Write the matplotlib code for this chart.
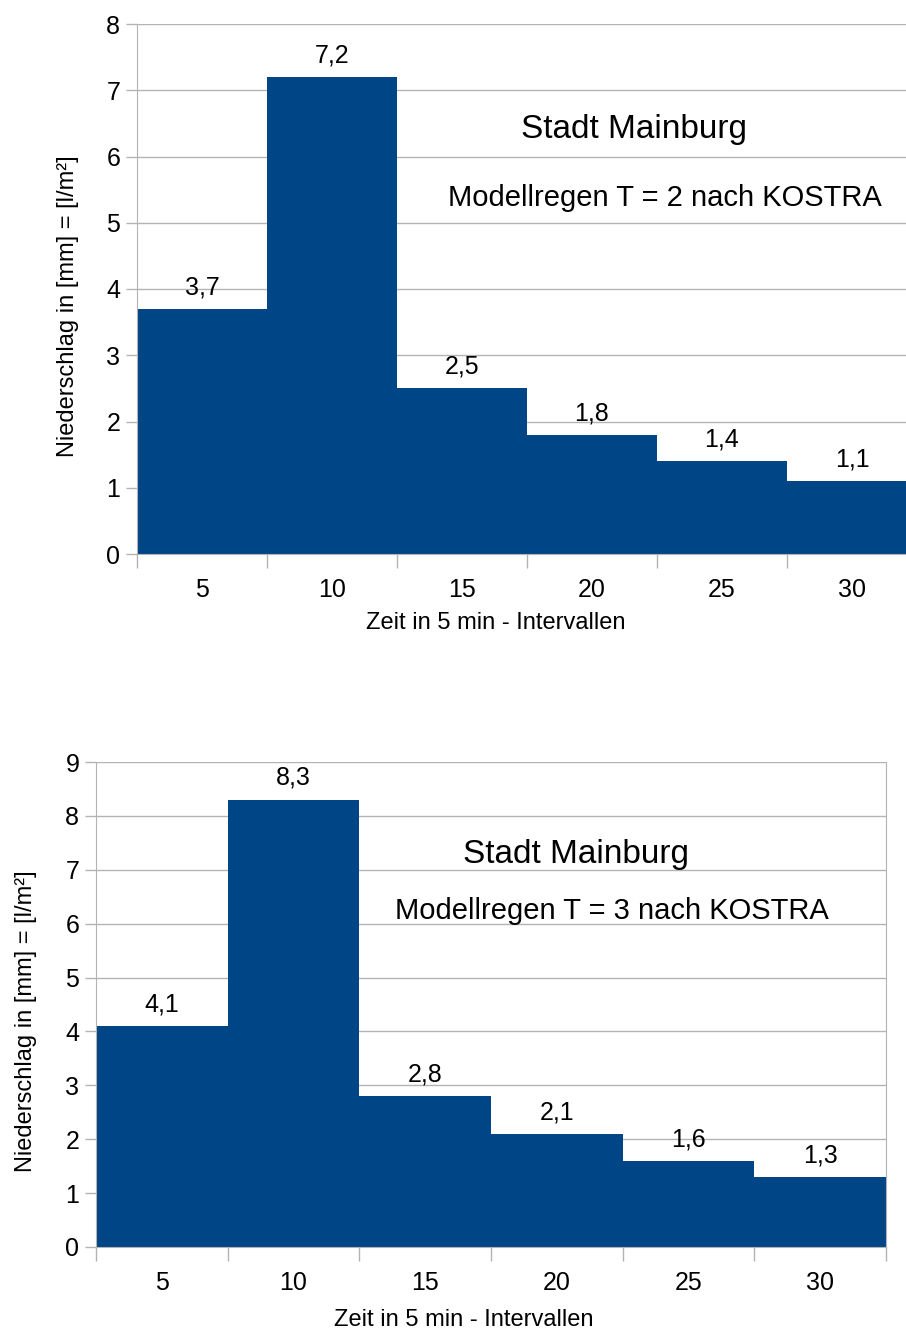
import numpy as np
import matplotlib.pyplot as plt

plt.rcParams['font.family'] = ['Liberation Sans', 'DejaVu Sans']

# data
intervals = ['5', '10', '15', '20', '25', '30']
rain_t2 = [3.7, 7.2, 2.5, 1.8, 1.4, 1.1]
rain_t3 = [4.1, 8.3, 2.8, 2.1, 1.6, 1.3]
labels_t2 = ['3,7', '7,2', '2,5', '1,8', '1,4', '1,1']
labels_t3 = ['4,1', '8,3', '2,8', '2,1', '1,6', '1,3']

bar_color = '#004586'
grid_color = '#b3b3b3'

fig = plt.figure(figsize=(9.06, 13.3), dpi=100)

# top chart runs past the right edge of the picture
ax1 = fig.add_axes([137/906, 776/1330, 780/906, 530/1330])
ax2 = fig.add_axes([96/906, 83/1330, 790/906, 485/1330])


def draw_chart(ax, values, labels, ymax, subtitle, title_pos, sub_pos, xlab_pos, ylab_pos):
    x = np.arange(len(values))
    ax.bar(x, values, width=1.0, color=bar_color, zorder=2)
    for xi, v, lab in zip(x, values, labels):
        ax.annotate(lab, (xi, v), xytext=(0, 7), textcoords='offset points',
                    ha='center', va='bottom', fontsize=18)
    ax.set_xlim(-0.5, len(values) - 0.5)
    ax.set_ylim(0, ymax)
    ax.set_yticks(range(0, ymax + 1))
    ax.set_xticks(x)
    ax.set_xticklabels(intervals)
    ax.set_xticks(np.arange(len(values) + 1) - 0.5, minor=True)
    ax.tick_params(axis='x', which='major', length=0, pad=17.5, labelsize=18)
    ax.tick_params(axis='x', which='minor', length=10, color=grid_color, width=1)
    ax.tick_params(axis='y', length=8, color=grid_color, width=1, pad=4, labelsize=18)
    ax.yaxis.grid(True, color=grid_color, linewidth=1, zorder=0)
    ax.set_axisbelow(True)
    for s in ['left', 'bottom', 'right']:
        ax.spines[s].set_color(grid_color)
    ax.spines['top'].set_visible(False)
    ax.set_xlabel('Zeit in 5 min - Intervallen', fontsize=17)
    ax.xaxis.label.set_verticalalignment('center')
    ax.xaxis.set_label_coords(*xlab_pos)
    ax.set_ylabel('Niederschlag in [mm] = [l/m²]', fontsize=17)
    ax.yaxis.label.set_verticalalignment('center')
    ax.yaxis.set_label_coords(*ylab_pos)
    ax.text(title_pos[0], title_pos[1], 'Stadt Mainburg', transform=ax.transAxes,
            ha='center', va='center', fontsize=24)
    ax.text(sub_pos[0], sub_pos[1], subtitle, transform=ax.transAxes,
            ha='center', va='center', fontsize=21)


draw_chart(ax1, rain_t2, labels_t2, 8, 'Modellregen T = 2 nach KOSTRA',
           (0.637, 0.801), (0.677, 0.671), (0.460, -0.130), (-0.0885, 0.468))
draw_chart(ax2, rain_t3, labels_t3, 9, 'Modellregen T = 3 nach KOSTRA',
           (0.608, 0.809), (0.653, 0.692), (0.466, -0.150), (-0.0886, 0.466))

fig.savefig('out.png', dpi=100)
